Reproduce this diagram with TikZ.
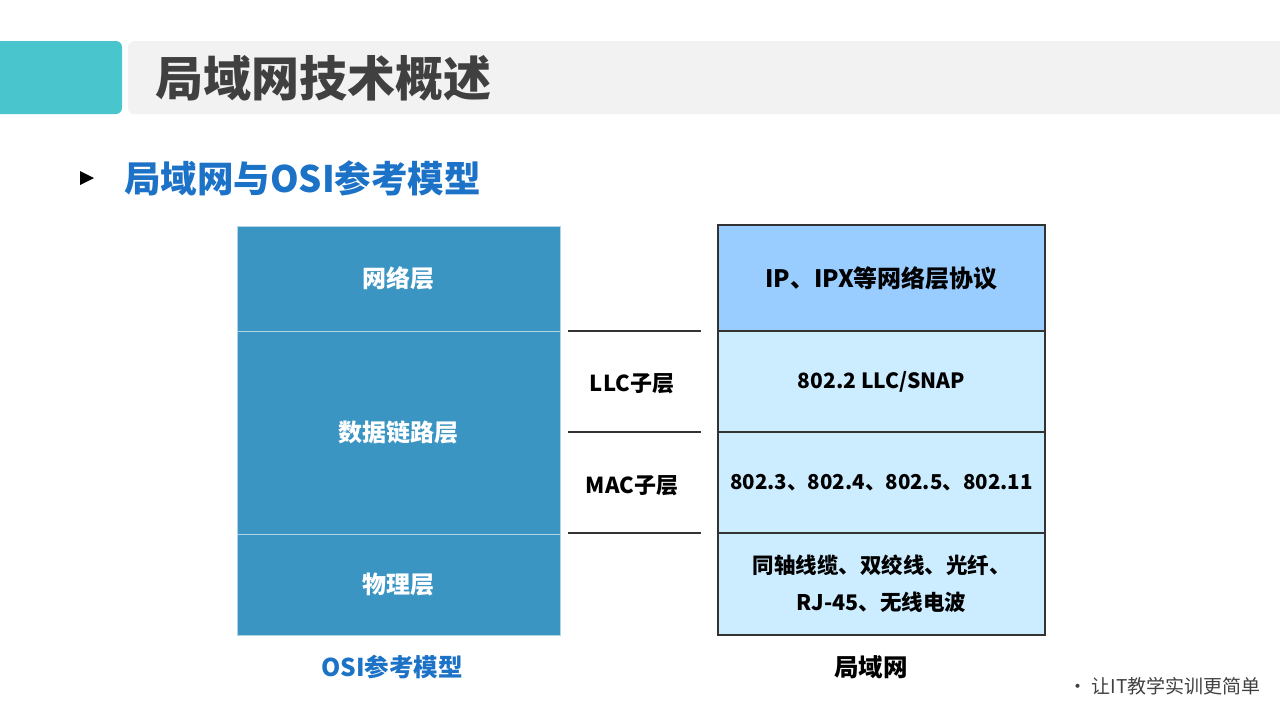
\documentclass[tikz,border=0pt]{standalone}
\usepackage{fontspec}
\usepackage{tikz}
\usetikzlibrary{positioning}
\newfontfamily\cjk{Noto Sans CJK SC}
\definecolor{tealbar}{HTML}{48C5CD}
\definecolor{greybar}{HTML}{F2F2F2}
\definecolor{titlegrey}{HTML}{404040}
\definecolor{subblue}{HTML}{1B72C6}
\definecolor{osiblue}{HTML}{3A95C3}
\definecolor{lanhead}{HTML}{99CCFF}
\definecolor{lanbody}{HTML}{CCECFF}
\definecolor{rulegrey}{HTML}{333333}

\begin{document}
\begin{tikzpicture}[x=1pt, y=-1pt,
  osi/.style={rectangle, draw=white!60!osiblue, line width=1pt, fill=osiblue,
    text=white, minimum width=323pt, inner sep=0pt, outer sep=0pt,
    font=\cjk\bfseries\fontsize{24}{28}\selectfont},
  lan/.style={rectangle, draw=rulegrey, line width=1.5pt, fill=lanbody,
    minimum width=327pt, inner sep=0pt, outer sep=0pt, align=center,
    font=\cjk\bfseries\fontsize{21}{37}\selectfont},
  sublabel/.style={font=\cjk\bfseries\fontsize{22}{24}\selectfont},
  caption/.style={font=\cjk\bfseries\fontsize{24.5}{28}\selectfont},
  divider/.style={draw=rulegrey, line width=1.5pt},
  node distance=0pt
]
\useasboundingbox (0,0) rectangle (1280,720);

% title bar
\fill[tealbar, rounded corners=6pt] (-10,41) rectangle (122,114);
\fill[greybar, rounded corners=6pt] (128,41) rectangle (1290,114);
\node[anchor=west, inner sep=0pt, text=titlegrey,
  font=\cjk\bfseries\fontsize{48}{52}\selectfont] (title) at (155,78) {局域网技术概述};

% bullet line
\fill (80,171) -- (80,185) -- (94,178) -- cycle;
\node[anchor=west, inner sep=0pt, text=subblue,
  font=\cjk\bfseries\fontsize{36.5}{40}\selectfont] (subtitle) at (124,178) {局域网与OSI参考模型};

% OSI model
\node[osi, minimum height=105pt, anchor=north west] (osinet) at (237,226) {网络层};
\node[osi, minimum height=203pt, below=of osinet] (osidl) {数据链路层};
\node[osi, minimum height=101pt, below=of osidl] (osiphy) {物理层};

% LAN
\node[lan, fill=lanhead, minimum height=106pt, anchor=north west,
  font=\cjk\bfseries\fontsize{24}{28}\selectfont] (lannet) at (718,225) {IP、IPX等网络层协议};
\node[lan, minimum height=101pt, below=of lannet] (lanllc) {802.2 LLC/SNAP};
\node[lan, minimum height=101pt, below=of lanllc,
  font=\cjk\bfseries\fontsize{20.5}{24}\selectfont] (lanmac) {802.3、802.4、802.5、802.11};
\node[lan, minimum height=102pt, below=of lanmac,
  font=\cjk\bfseries\fontsize{21.5}{37}\selectfont] (lanphy) {同轴线缆、双绞线、光纤、\\RJ-45、无线电波};

% sublayers
\coordinate (d1a) at (568,331); \coordinate (d1b) at (701,331);
\coordinate (d2a) at (568,432); \coordinate (d2b) at (701,432);
\coordinate (d3a) at (568,533); \coordinate (d3b) at (701,533);
\draw[divider] (d1a) -- (d1b);
\draw[divider] (d2a) -- (d2b);
\draw[divider] (d3a) -- (d3b);
\node[sublabel] (llc) at (632,384) {LLC子层};
\node[sublabel] (mac) at (632,486) {MAC子层};

% captions
\node[caption, text=subblue] (osicap) at (392,667) {OSI参考模型};
\node[caption] (lancap) at (871,667) {局域网};

\node[anchor=west, inner sep=0pt, text=black!75,
  font=\cjk\fontsize{19}{20}\selectfont] (slogan) at (1068,686) {• 让IT教学实训更简单};
\end{tikzpicture}
\end{document}
